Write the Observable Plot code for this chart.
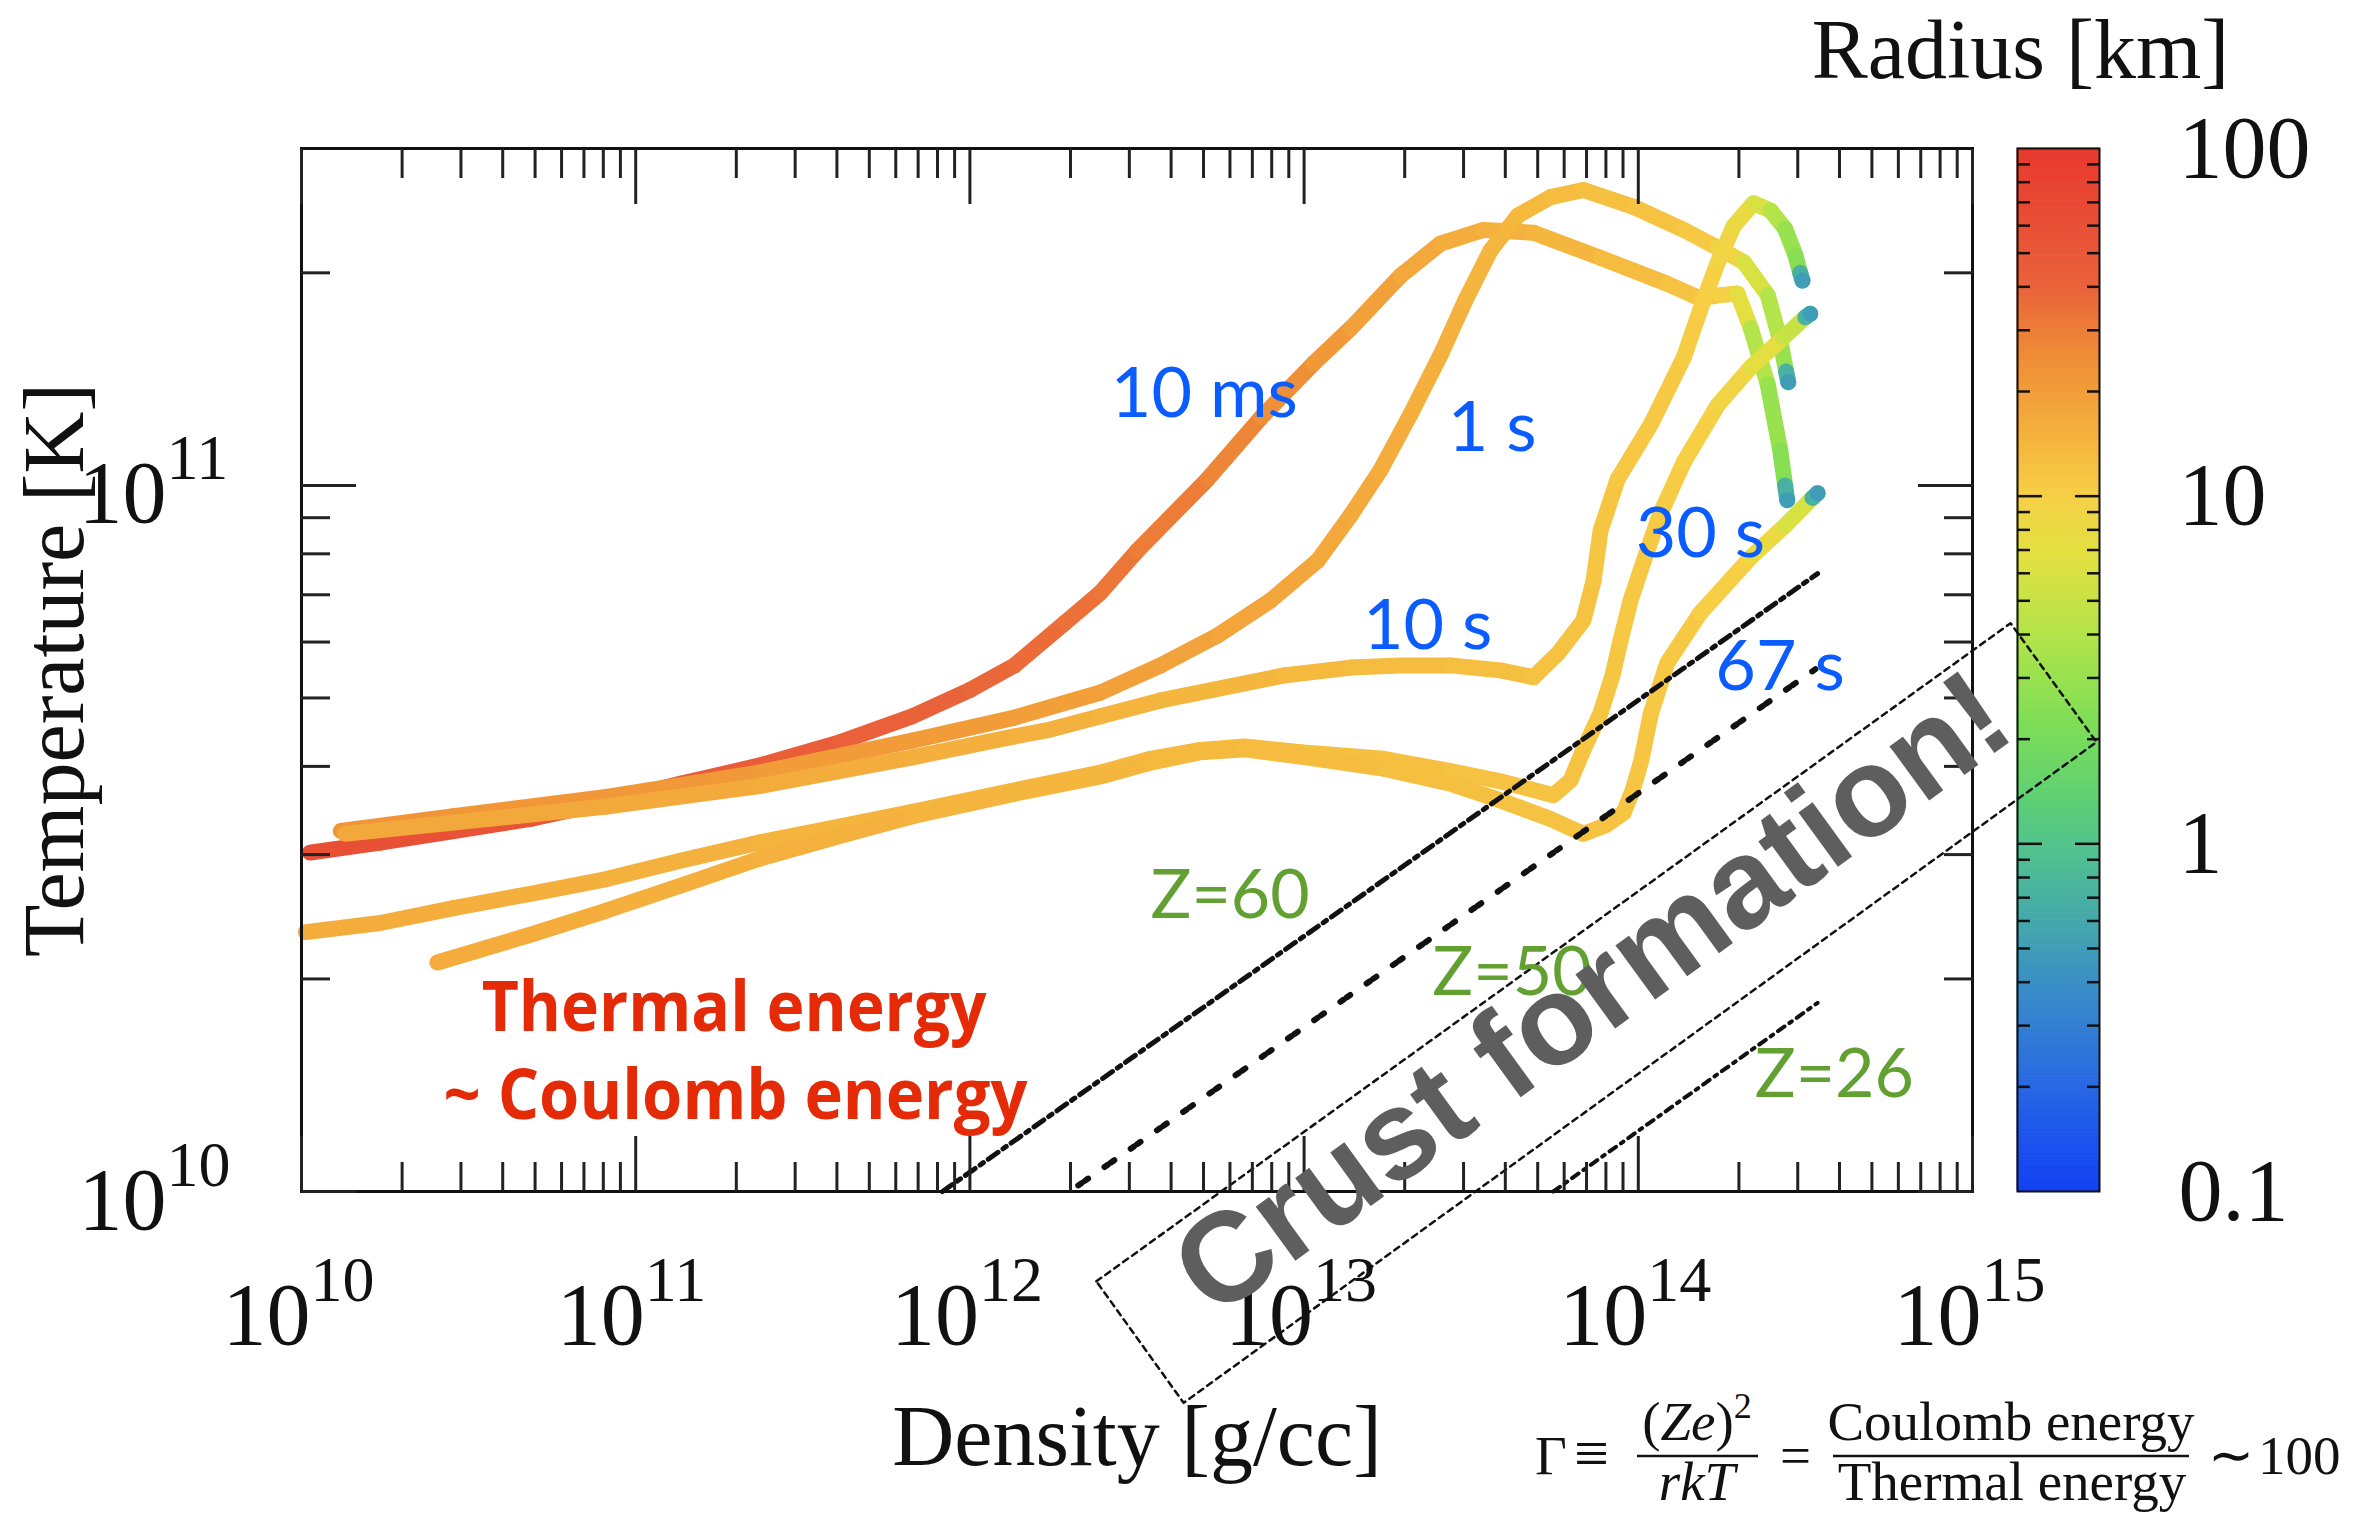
<!DOCTYPE html>
<html><head><meta charset="utf-8">
<script src="https://cdn.jsdelivr.net/npm/d3@7"></script>
<script src="https://cdn.jsdelivr.net/npm/@observablehq/plot@0.6"></script>
<style>
html,body{margin:0;padding:0;background:#fff;}
#wrap{position:relative;width:2364px;height:1516px;overflow:hidden;background:#fff;}
#wrap svg{position:absolute;left:0;top:0;}
</style></head><body><div id="wrap"></div>
<script>
// ---------- data: [density g/cc, temperature K, radius km] ----------
const curve10ms = [
[1.06e10,3.02e10,60],[1.72e10,3.12e10,58],[2.85e10,3.24e10,55],[4.84e10,3.37e10,52],
[8.18e10,3.56e10,48],[1.36e11,3.78e10,46],[2.34e11,4.01e10,44],[4.10e11,4.33e10,42],
[6.73e11,4.71e10,40],[1.00e12,5.13e10,38],[1.36e12,5.56e10,36],[1.92e12,6.38e10,34],
[2.46e12,7.05e10,32],[3.16e12,8.07e10,30],[5.14e12,1.02e11,27],[7.46e12,1.25e11,24],
[1.07e13,1.49e11,21],[1.38e13,1.67e11,19],[1.94e13,1.98e11,17],[2.56e13,2.20e11,16],
[3.44e13,2.30e11,15],[4.86e13,2.28e11,14],[7.71e13,2.10e11,13],[1.22e14,1.93e11,12],
[1.53e14,1.84e11,11],[1.76e14,1.86e11,10],[1.98e14,1.87e11,7],[2.17e14,1.67e11,4],
[2.44e14,1.39e11,3],[2.66e14,1.12e11,2.5],[2.75e14,1.00e11,0.7],[2.79e14,9.53e10,0.5]
];
const curve1s = [
[1.31e10,3.24e10,22],[2.85e10,3.40e10,21.5],[8.18e10,3.62e10,21],[2.34e11,3.92e10,20.5],
[6.73e11,4.35e10,20],[1.36e12,4.69e10,19.5],[2.46e12,5.09e10,19],[3.72e12,5.56e10,18.5],
[5.51e12,6.13e10,18],[7.94e12,6.87e10,17.5],[1.10e13,7.83e10,17],[1.38e13,9.08e10,16.5],
[1.69e13,1.05e11,16],[2.08e13,1.26e11,15.5],[2.56e13,1.53e11,15],[3.04e13,1.83e11,14.5],
[3.61e13,2.15e11,14],[4.36e13,2.41e11,13.5],[5.46e13,2.56e11,13],[6.85e13,2.62e11,12.5],
[9.68e13,2.48e11,12],[1.37e14,2.30e11,11],[1.73e14,2.17e11,9],[2.07e14,2.07e11,6],
[2.44e14,1.86e11,4],[2.66e14,1.60e11,3],[2.77e14,1.45e11,0.7],[2.81e14,1.40e11,0.5]
];
const curve10s = [
[1.35e10,3.21e10,17],[2.85e10,3.33e10,17],[8.18e10,3.51e10,16.5],[2.34e11,3.75e10,16],
[6.73e11,4.12e10,15.5],[1.36e12,4.41e10,15],[1.74e12,4.51e10,15],[2.46e12,4.71e10,14.5],
[3.72e12,4.96e10,14],[5.51e12,5.15e10,14],[8.67e12,5.38e10,13.5],[1.38e13,5.52e10,13],
[1.94e13,5.56e10,13],[2.74e13,5.56e10,12.5],[3.87e13,5.47e10,12.5],[4.86e13,5.35e10,12],
[5.77e13,5.79e10,12],[6.85e13,6.44e10,12],[7.35e13,7.33e10,11.5],[7.71e13,8.63e10,11.5],
[8.67e13,1.02e11,11],[1.09e14,1.22e11,11],[1.37e14,1.52e11,10.5],[1.53e14,1.77e11,10],
[1.73e14,2.07e11,9],[1.93e14,2.33e11,8],[2.21e14,2.51e11,6],[2.49e14,2.45e11,4],
[2.75e14,2.31e11,3],[2.95e14,2.12e11,2.5],[3.05e14,2.00e11,0.7],[3.10e14,1.95e11,0.5]
];
const curve30s = [
[1.03e10,2.33e10,16],[1.72e10,2.40e10,16],[2.85e10,2.52e10,15.5],[4.84e10,2.64e10,15.5],
[8.18e10,2.77e10,15],[1.36e11,2.94e10,15],[2.34e11,3.12e10,14.5],[4.10e11,3.29e10,14.5],
[6.73e11,3.45e10,14],[1.36e12,3.70e10,14],[2.46e12,3.92e10,13.5],[3.47e12,4.10e10,13.5],
[4.90e12,4.22e10,13],[6.64e12,4.27e10,13],[9.75e12,4.19e10,12.5],[1.73e13,4.10e10,12.5],
[2.74e13,3.94e10,12],[3.87e13,3.81e10,12],[5.57e13,3.64e10,12],[6.27e13,3.82e10,12],
[6.85e13,4.22e10,11.5],[7.71e13,4.76e10,11.5],[8.37e13,5.38e10,11.5],[8.85e13,6.03e10,11],
[9.48e13,6.87e10,11],[1.04e14,7.83e10,11],[1.16e14,9.08e10,10.5],[1.37e14,1.08e11,10],
[1.73e14,1.30e11,9],[2.17e14,1.47e11,7],[2.72e14,1.62e11,5],[3.16e14,1.73e11,0.7],
[3.27e14,1.75e11,0.5]
];
const curve67s = [
[2.55e10,2.11e10,16],[4.84e10,2.31e10,16],[8.18e10,2.50e10,15.5],[1.36e11,2.71e10,15.5],
[2.34e11,2.96e10,15],[4.10e11,3.19e10,15],[6.73e11,3.40e10,14.5],[1.36e12,3.66e10,14],
[2.46e12,3.87e10,14],[3.47e12,4.05e10,13.5],[4.90e12,4.19e10,13.5],[6.64e12,4.23e10,13],
[9.75e12,4.13e10,13],[1.73e13,3.97e10,12.5],[2.74e13,3.78e10,12.5],[3.87e13,3.58e10,12],
[5.46e13,3.37e10,12],[6.85e13,3.21e10,12],[7.98e13,3.30e10,12],[9.04e13,3.44e10,11.5],
[9.62e13,3.70e10,11.5],[1.02e14,4.07e10,11.5],[1.09e14,4.75e10,11],[1.22e14,5.60e10,11],
[1.53e14,6.59e10,10],[2.17e14,7.91e10,8],[2.75e14,8.77e10,6],[3.32e14,9.60e10,0.7],
[3.44e14,9.75e10,0.5]
];
const seriesNames = ["10 ms", "1 s", "10 s", "30 s", "67 s"];
const seriesData = [curve10ms, curve1s, curve10s, curve30s, curve67s];

// Gamma ~ 100 lines (end points)
const zLine60 = [[8.28e11, 1.00e10], [3.44e14, 7.50e10]];
const zLine50 = [[2.11e12, 1.02e10], [3.44e14, 5.52e10]];
const zLine26 = [[5.57e13, 1.00e10], [3.44e14, 1.85e10]];
// crust formation box corners
const crustBox = [[2.39e12, 7.46e9], [1.30e15, 6.38e10], [2.35e15, 4.33e10], [4.36e12, 5.02e9], [2.39e12, 7.46e9]];

const timeLabels = [
  {label: "10 ms", rho: 2.64e12, T: 1.25e11},
  {label: "1 s", rho: 2.69e13, T: 1.12e11},
  {label: "10 s", rho: 1.50e13, T: 5.87e10},
  {label: "30 s", rho: 9.82e13, T: 7.91e10},
  {label: "67 s", rho: 1.70e14, T: 5.13e10}
];
const zLabels = [
  {label: "Z=60", rho: 3.47e12, T: 2.44e10},
  {label: "Z=50", rho: 2.42e13, T: 1.90e10},
  {label: "Z=26", rho: 2.23e14, T: 1.36e10}
];
const regimeLabels = [
  {label: "Thermal energy", rho: 3.46e10, T: 1.69e10},
  {label: "~ Coulomb energy", rho: 2.66e10, T: 1.265e10}
];
const crustLabel = [{label: "Crust formation!", rho: 7.3e13, T: 1.90e10}];

const xDecades = [1e10, 1e11, 1e12, 1e13, 1e14, 1e15];
const xMinor = [1e10, 1e11, 1e12, 1e13, 1e14].flatMap(d => [2,3,4,5,6,7,8,9].map(m => m * d));
const yDecades = [1e10, 1e11];
const yMinor = [2e10,3e10,4e10,5e10,6e10,7e10,8e10,9e10,2e11];
const cbLabels = [100, 10, 1, 0.1];
const cbMajor = [1, 10];
const cbMinor = [0.1, 1, 10].flatMap(d => [2,3,4,5,6,7,8,9].map(m => +(m * d).toPrecision(3)));

// ---------- styling ----------
const SERIF = "Liberation Serif, Times New Roman, Times, serif";
const W = 2364, H = 1516;
const redWidths = [505, 584];
const rampT = [0, 0.04, 0.11, 0.19, 0.26, 0.333, 0.38, 0.45, 0.53, 0.61, 0.667, 0.72, 0.80, 0.87, 1];
const rampC = ["#1240f2","#1a4ff0","#2a6be2","#388bc9","#45a8ab","#52c48c","#5fd072","#7ede55",
               "#b0e44a","#e2e040","#f6cf45","#f5b43d","#ef8c36","#e9613a","#e8382f"];
const ramp = d3.scaleLinear().domain(rampT).range(rampC).clamp(true);
const colorOpt = {type: "log", domain: [0.1, 100], interpolate: (t) => ramp(t)};

const profile = seriesNames.flatMap((name, k) => seriesData[k].map(([rho, T, r]) => ({name, rho, T, r})));
const P = d => d[0], Q = d => d[1];

// ---------- colour bar (bottom layer) ----------
const rampSteps = d3.range(300).map(i => ({lo: 10 ** (-1 + 3 * i / 300), hi: 10 ** (-1 + 3 * (i + 1) / 300)}));
const cb = Plot.plot({
  width: W, height: H, marginLeft: 2017, marginRight: 265, marginTop: 148, marginBottom: 325,
  x: {domain: [0, 1], axis: null},
  y: {type: "log", domain: [0.1, 100]},
  color: colorOpt,
  marks: [
    Plot.rect(rampSteps, {x1: 0, x2: 1, y1: "lo", y2: "hi", fill: d => Math.sqrt(d.lo * d.hi), stroke: d => Math.sqrt(d.lo * d.hi), strokeWidth: 0.8}),
    Plot.frame({stroke: "#111", strokeWidth: 2}),
    Plot.axisY(cbMinor, {anchor: "left", tickSize: -13, tickFormat: () => "", label: null, stroke: "#111", strokeWidth: 2.5}),
    Plot.axisY(cbMinor, {anchor: "right", tickSize: -13, tickFormat: () => "", label: null, stroke: "#111", strokeWidth: 2.5}),
    Plot.axisY(cbMajor, {anchor: "left", tickSize: -25, tickFormat: () => "", label: null, stroke: "#111", strokeWidth: 2.5}),
    Plot.axisY(cbMajor, {anchor: "right", tickSize: -25, tickFormat: () => "", label: null, stroke: "#111", strokeWidth: 2.5}),
    Plot.text(cbLabels, {y: d => d, frameAnchor: "right", dx: 79, text: d => String(d), textAnchor: "start", lineAnchor: "middle", fontSize: 88, fontFamily: SERIF, fill: "#111"}),
    Plot.text(["Radius [km]"], {frameAnchor: "top", text: d => d, dx: -38, dy: -71, lineAnchor: "bottom", fontSize: 84, fontFamily: SERIF, fill: "#111"})
  ]
});

// ---------- main plot (top layer) ----------
const main = Plot.plot({
  width: W, height: H, marginLeft: 301, marginRight: 392, marginTop: 148, marginBottom: 325,
  style: {background: "transparent", overflow: "visible"},
  x: {type: "log", domain: [1e10, 1e15]},
  y: {type: "log", domain: [1e10, 3e11]},
  color: colorOpt,
  marks: [
    Plot.line(profile, {x: "rho", y: "T", z: "name", stroke: "r", strokeWidth: 16, strokeLinecap: "round", strokeLinejoin: "round"}),
    Plot.line(zLine60, {x: P, y: Q, stroke: "#111", strokeWidth: 5, strokeDasharray: "12 6 4 6"}),
    Plot.line(zLine50, {x: P, y: Q, stroke: "#111", strokeWidth: 6, strokeDasharray: "4 4 4 20"}),
    Plot.line(zLine26, {x: P, y: Q, stroke: "#111", strokeWidth: 4, strokeDasharray: "8 6 3 6"}),
    Plot.line(crustBox, {x: P, y: Q, stroke: "#111", strokeWidth: 2.5, strokeDasharray: "6 5"}),
    Plot.frame({stroke: "#111", strokeWidth: 3}),
    Plot.axisX(xDecades, {anchor: "bottom", tickSize: -55, tickFormat: () => "", label: null, stroke: "#222", strokeWidth: 3}),
    Plot.axisX(xDecades, {anchor: "top", tickSize: -55, tickFormat: () => "", label: null, stroke: "#222", strokeWidth: 3}),
    Plot.axisX(xMinor, {anchor: "bottom", tickSize: -29, tickFormat: () => "", label: null, stroke: "#222", strokeWidth: 3}),
    Plot.axisX(xMinor, {anchor: "top", tickSize: -29, tickFormat: () => "", label: null, stroke: "#222", strokeWidth: 3}),
    Plot.axisY(yDecades, {anchor: "left", tickSize: -55, tickFormat: () => "", label: null, stroke: "#222", strokeWidth: 3}),
    Plot.axisY(yDecades, {anchor: "right", tickSize: -55, tickFormat: () => "", label: null, stroke: "#222", strokeWidth: 3}),
    Plot.axisY(yMinor, {anchor: "left", tickSize: -29, tickFormat: () => "", label: null, stroke: "#222", strokeWidth: 3}),
    Plot.axisY(yMinor, {anchor: "right", tickSize: -29, tickFormat: () => "", label: null, stroke: "#222", strokeWidth: 3}),
    // tick labels 10^n
    Plot.text(xDecades, {x: d => d, frameAnchor: "bottom", text: () => "10", textAnchor: "end", lineAnchor: "bottom", dx: 9, dy: 152, fontSize: 88, fontFamily: SERIF, fill: "#111"}),
    Plot.text(xDecades, {x: d => d, frameAnchor: "bottom", text: d => String(Math.round(Math.log10(d))), textAnchor: "start", lineAnchor: "bottom", dx: 9, dy: 109, fontSize: 64, fontFamily: SERIF, fill: "#111"}),
    Plot.text(yDecades, {y: d => d, frameAnchor: "left", text: () => "10", textAnchor: "end", lineAnchor: "bottom", dx: -135, dy: 37, fontSize: 88, fontFamily: SERIF, fill: "#111"}),
    Plot.text(yDecades, {y: d => d, frameAnchor: "left", text: d => String(Math.round(Math.log10(d))), textAnchor: "start", lineAnchor: "bottom", dx: -135, dy: -6, fontSize: 64, fontFamily: SERIF, fill: "#111"}),
    Plot.text(["Density [g/cc]"], {frameAnchor: "bottom", text: d => d, dy: 273, lineAnchor: "bottom", fontSize: 86, fontFamily: SERIF, fill: "#111"}),
    Plot.text(["Temperature [K]"], {frameAnchor: "left", text: d => d, rotate: -90, dx: -219, lineAnchor: "bottom", textAnchor: "middle", fontSize: 86, fontFamily: SERIF, fill: "#111"}),
    // annotations
    Plot.text(timeLabels, {x: "rho", y: "T", text: "label", textAnchor: "start", lineAnchor: "bottom", fontSize: 70, fontFamily: "Lato, Roboto, sans-serif", fill: "#0a5cff"}),
    Plot.text(zLabels, {x: "rho", y: "T", text: "label", textAnchor: "start", lineAnchor: "bottom", fontSize: 68, fontFamily: "Lato, Roboto, sans-serif", fill: "#62a032"}),
    Plot.text(regimeLabels, {x: "rho", y: "T", text: "label", textAnchor: "start", lineAnchor: "bottom", fontSize: 70, fontWeight: "bold", fontFamily: "Open Sans, Liberation Sans, sans-serif", fill: "#e42a06"}),
    Plot.text(crustLabel, {x: "rho", y: "T", text: "label", rotate: -36, textAnchor: "middle", lineAnchor: "middle", fontSize: 127, fontWeight: "bold", fontFamily: "Liberation Sans, Arial, sans-serif", fill: "#5e5e5e"})
  ]
});

const wrap = document.getElementById("wrap");
wrap.appendChild(cb);
wrap.appendChild(main);

// condensed red labels
regimeLabels.forEach((d, i) => {
  [...main.querySelectorAll("text")].filter(t => t.textContent === d.label).forEach(t => {
    t.setAttribute("textLength", redWidths[i]);
    t.setAttribute("lengthAdjust", "spacingAndGlyphs");
  });
});

// ---------- Gamma formula (annotation) ----------
const g = d3.select(cb).append("g").attr("font-family", SERIF).attr("font-size", 55).attr("fill", "#111").attr("text-anchor", "start");
g.append("text").attr("x", 1535).attr("y", 1474).text("Γ");
g.append("text").attr("x", 1574).attr("y", 1474).attr("font-size", 62).text("≡");
const num = g.append("text").attr("x", 1697).attr("y", 1440).attr("text-anchor", "middle");
num.append("tspan").text("(");
num.append("tspan").attr("font-style", "italic").text("Ze");
num.append("tspan").text(")");
num.append("tspan").attr("font-size", 36).attr("dy", -22).text("2");
g.append("line").attr("x1", 1637).attr("x2", 1758).attr("y1", 1456).attr("y2", 1456).attr("stroke", "#111").attr("stroke-width", 2.5);
g.append("text").attr("x", 1697).attr("y", 1500).attr("text-anchor", "middle").attr("font-style", "italic").text("rkT");
g.append("text").attr("x", 1780).attr("y", 1474).text("=");
g.append("text").attr("x", 2011).attr("y", 1440).attr("text-anchor", "middle").text("Coulomb energy");
g.append("line").attr("x1", 1833).attr("x2", 2189).attr("y1", 1456).attr("y2", 1456).attr("stroke", "#111").attr("stroke-width", 2.5);
g.append("text").attr("x", 2012).attr("y", 1500).attr("text-anchor", "middle").text("Thermal energy");
g.append("text").attr("x", 2208).attr("y", 1474).text("∼");
g.append("text").attr("x", 2258).attr("y", 1474).text("100");
</script></body></html>
